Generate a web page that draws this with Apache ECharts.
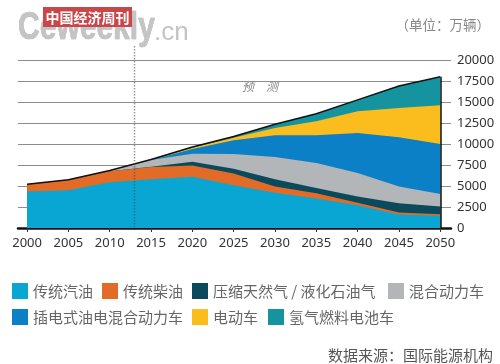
<!DOCTYPE html>
<html><head><meta charset="utf-8">
<script src="https://cdn.jsdelivr.net/npm/echarts@6/dist/echarts.min.js"></script>
<style>html,body{margin:0;padding:0;background:#fff}#c{width:500px;height:364px}</style>
</head><body><div id="c"></div>
<script>
// ---- data (万辆) ----
const years = [2000, 2005, 2010, 2015, 2020, 2025, 2030, 2035, 2040, 2045, 2050];
const gasoline = [4350, 4500, 5450, 5800, 6100, 5100, 4200, 3500, 2700, 1600, 1450];
const diesel   = [850, 1250, 1300, 1450, 1350, 1400, 750, 650, 300, 250, 200];
const cngLpg   = [0, 0, 0, 50, 450, 550, 850, 600, 750, 1100, 900];
const hybrid   = [0, 0, 100, 800, 950, 1750, 2650, 3000, 2800, 2000, 1500];
const phev     = [0, 0, 0, 0, 550, 1650, 2600, 3300, 4750, 5850, 5950];
const ev       = [0, 0, 0, 0, 150, 300, 850, 1650, 2600, 3500, 4600];
const fcv      = [0, 0, 0, 50, 100, 150, 450, 900, 1350, 2600, 3400];
const seriesNames = ['传统汽油', '传统柴油', '压缩天然气 / 液化石油气', '混合动力车', '插电式油电混合动力车', '电动车', '氢气燃料电池车'];
const xTickYears = [2000, 2005, 2010, 2015, 2020, 2025, 2030, 2035, 2040, 2045, 2050];
const forecastYear = 2013;

const seriesData = [gasoline, diesel, cngLpg, hybrid, phev, ev, fcv];
const colors = ['#0aa6d3', '#e26b27', '#0b4a5c', '#b3b6b9', '#0b80c7', '#fbbd1d', '#1594a0'];
const font = "'Noto Sans', 'Noto Sans CJK SC', sans-serif";
const cjk = "'Noto Sans CJK SC', 'Noto Sans', sans-serif";

// cumulative (stacked) tops, built from the arrays above
const cumul = [];
seriesData.forEach((arr, i) => {
  cumul.push(arr.map((v, j) => v + (i > 0 ? cumul[i - 1][j] : 0)));
});
const lastIdx = years.length - 1;
const total = cumul[cumul.length - 1];

// draw from top layer down so each lower layer paints over the one above
const series = [];
for (let i = seriesData.length - 1; i >= 0; i--) {
  series.push({
    name: seriesNames[i], type: 'line', symbol: 'none', silent: true,
    color: colors[i],
    data: years.map((y, j) => [y, cumul[i][j]]),
    areaStyle: { color: colors[i], opacity: 1 },
    lineStyle: { width: 0 }
  });
}
series.push({
  name: 'total', type: 'line', symbol: 'none', silent: true,
  data: years.map((y, j) => [y, total[j]]),
  lineStyle: { width: 1.5, color: '#111' }, z: 5,
  markLine: {
    silent: true, symbol: 'none', label: { show: false },
    lineStyle: { color: '#111', width: 1.5, type: 'solid' },
    data: [[{ coord: [years[lastIdx], 0] }, { coord: [years[lastIdx], total[lastIdx]] }]]
  }
});

const legendPos = [[12, 283], [102, 283], [192, 283], [388, 283], [12, 309], [192, 309], [268, 309]];
const legends = seriesNames.map((n, i) => ({
  data: [n], left: legendPos[i][0], top: legendPos[i][1], padding: 0,
  itemWidth: 16, itemHeight: 16, icon: 'rect', selectedMode: false,
  textStyle: { fontSize: 15, color: '#666', fontFamily: cjk }
}));

const chart = echarts.init(document.getElementById('c'));
const baseGraphic = [
  { type: 'text', id: 'logoC', z: 10, x: 18, y: 29, scaleX: 0.79,
    style: { text: 'Ceweekly', font: "bold 38px 'Liberation Sans', Arial, sans-serif", fill: '#c4c4c4',
      verticalAlign: 'middle', stroke: '#a8a8a8', lineWidth: 0.6,
      shadowColor: 'rgba(0,0,0,0.5)', shadowBlur: 2, shadowOffsetX: 1, shadowOffsetY: 1.5 } },
  { type: 'text', id: 'logoCn', z: 10, x: 154, y: 33,
    style: { text: '.cn', font: "26px 'Liberation Sans', Arial, sans-serif", fill: '#c4c4c4',
      verticalAlign: 'middle', shadowColor: 'rgba(0,0,0,0.45)', shadowBlur: 2, shadowOffsetX: 1, shadowOffsetY: 1 } },
  { type: 'rect', id: 'logoBox', z: 11, shape: { x: 43, y: 7, width: 89, height: 20 }, style: { fill: '#c9464a' } },
  { type: 'text', id: 'logoTxt', z: 12, x: 87.5, y: 17.5,
    style: { text: '中国经济周刊', font: "bold 14px " + cjk, fill: '#fff', align: 'center', verticalAlign: 'middle' } },
  { type: 'text', id: 'unit', x: 490, y: 25,
    style: { text: '（单位：万辆）', font: "13.5px " + cjk, fill: '#888', align: 'right', verticalAlign: 'middle' } },
  { type: 'text', id: 'fc', x: 242, y: 86,
    style: { text: '预　测', font: "italic 12px " + cjk, fill: '#888', verticalAlign: 'middle' } },
  { type: 'text', id: 'src', x: 493, y: 355,
    style: { text: '数据来源：国际能源机构', font: "15px " + cjk, fill: '#555', align: 'right', verticalAlign: 'middle' } }
];

chart.setOption({
  animation: false,
  backgroundColor: '#fff',
  grid: { left: 18, right: 49, top: 60, bottom: 136, containLabel: false },
  legend: legends,
  xAxis: {
    type: 'value', min: 1998.9, max: 2051.3,
    axisLine: { show: true, lineStyle: { color: '#111', width: 2.5 } },
    axisTick: { show: true, customValues: xTickYears, length: 4, lineStyle: { color: '#333', width: 1 } },
    axisLabel: { customValues: xTickYears, margin: 9, fontSize: 13, color: '#333', fontFamily: font, formatter: v => String(v) },
    splitLine: { show: false }
  },
  yAxis: {
    type: 'value', position: 'right', min: 0, max: 20000, interval: 2500,
    axisLine: { show: false }, axisTick: { show: false },
    axisLabel: { margin: 6, fontSize: 13, color: '#333', fontFamily: font, formatter: v => String(v) },
    splitLine: { lineStyle: { color: '#8c8c8c', width: 1 } }
  },
  graphic: baseGraphic,
  series: series
});

const px = chart.convertToPixel({ xAxisIndex: 0 }, forecastYear);
const py0 = chart.convertToPixel({ yAxisIndex: 0 }, 0);
chart.setOption({
  graphic: baseGraphic.concat([{
    type: 'line', id: 'fcLine', z: 100,
    shape: { x1: px, y1: 46, x2: px, y2: py0 - 1 },
    style: { stroke: 'rgba(70,70,70,0.55)', lineWidth: 1.5, lineDash: [1.5, 1.5] }
  }])
});
</script></body></html>
